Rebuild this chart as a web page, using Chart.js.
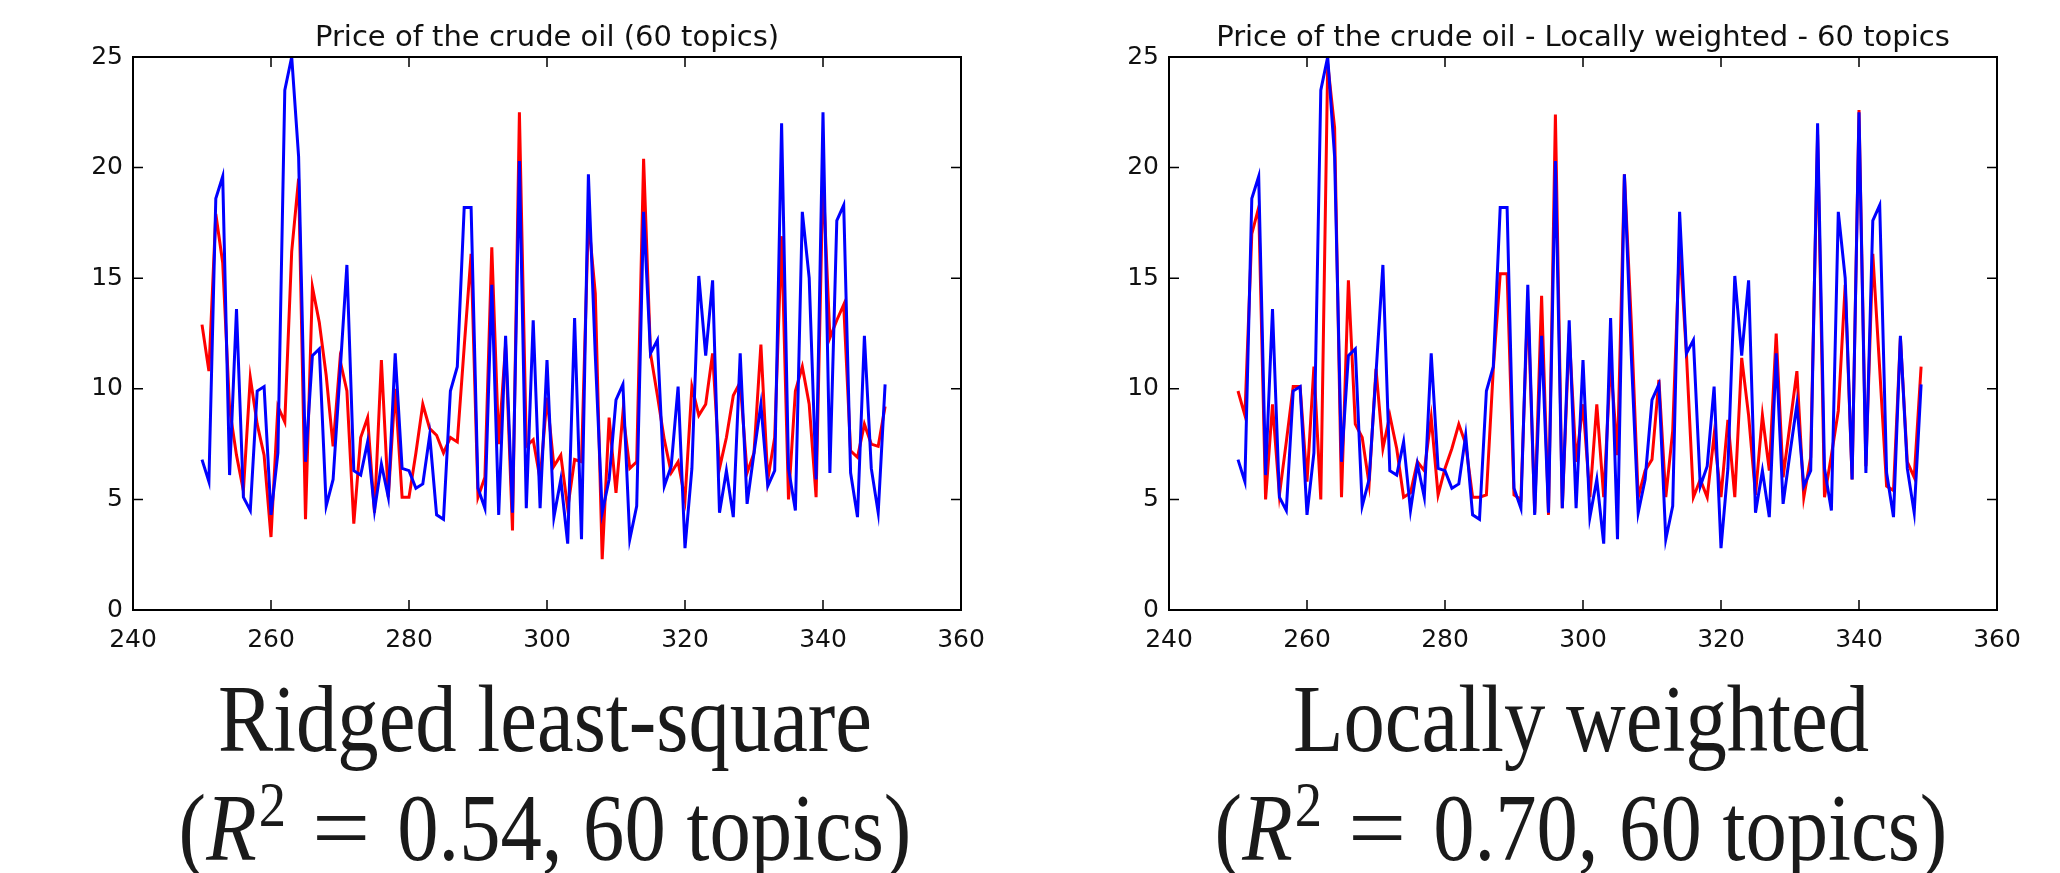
<!DOCTYPE html>
<html>
<head>
<meta charset="utf-8">
<script src="https://cdn.jsdelivr.net/npm/chart.js@4.4.1/dist/chart.umd.min.js"></script>
<style>
html,body{margin:0;padding:0;background:#fff;width:2060px;height:873px;overflow:hidden;}
.wrap{position:absolute;top:0;height:660px;}
.cap{position:absolute;width:1000px;text-align:center;font-family:"Liberation Serif",serif;font-size:95px;line-height:100px;color:#1a1a1a;white-space:nowrap;transform:scaleX(0.87);transform-origin:50% 0;}
.cap sup{font-size:0.66em;position:relative;top:-0.55em;vertical-align:baseline;line-height:0;margin-left:0.04em;}
.cap .eq{display:inline-block;margin:0 0.14em;transform:scaleX(1.25);}
</style>
</head>
<body>
<div class="wrap" style="left:0;width:1030px"><canvas id="c1"></canvas></div>
<div class="wrap" style="left:1036px;width:1024px"><canvas id="c2"></canvas></div>

<div class="cap" style="left:45px;top:669px">Ridged least-square</div>
<div class="cap" style="left:45px;top:778px">(<i>R</i><sup>2</sup> <span class="eq">=</span> 0.54, 60 topics)</div>
<div class="cap" style="left:1081px;top:669px">Locally weighted</div>
<div class="cap" style="left:1081px;top:778px">(<i>R</i><sup>2</sup> <span class="eq">=</span> 0.70, 60 topics)</div>

<script>
const days = [250,251,252,253,254,255,256,257,258,259,
  260,261,262,263,264,265,266,267,268,269,
  270,271,272,273,274,275,276,277,278,279,
  280,281,282,283,284,285,286,287,288,289,
  290,291,292,293,294,295,296,297,298,299,
  300,301,302,303,304,305,306,307,308,309,
  310,311,312,313,314,315,316,317,318,319,
  320,321,322,323,324,325,326,327,328,329,
  330,331,332,333,334,335,336,337,338,339,
  340,341,342,343,344,345,346,347,348,349];

const actualPrice = [6.8,5.8,18.6,19.6,6.1,13.6,5.1,4.5,9.9,10.1,
  4.3,7.1,23.5,25.0,20.5,6.7,11.5,11.8,4.7,5.9,
  10.7,15.6,6.3,6.1,7.6,4.5,6.6,5.1,11.6,6.4,
  6.3,5.5,5.7,7.9,4.3,4.1,9.9,11.0,18.2,18.2,
  5.5,4.6,14.7,4.3,12.4,4.4,20.3,4.6,13.1,4.6,
  11.3,4.2,5.9,3.0,13.2,3.2,19.7,11.5,4.4,5.9,
  9.5,10.2,3.2,4.7,18.0,11.6,12.2,5.6,6.5,10.1,
  2.8,6.4,15.1,11.5,14.9,4.4,6.3,4.2,11.6,4.8,
  7.1,9.3,5.6,6.3,22.0,6.4,4.5,18.0,15.0,5.9,
  22.5,6.2,17.6,18.3,6.2,4.2,12.4,6.4,4.4,10.2];

const ridgePred = [12.9,10.8,17.9,15.7,9.1,7.0,5.4,10.5,8.4,7.0,
  3.3,9.2,8.5,16.2,19.5,4.1,14.6,13.0,10.6,7.4,
  11.3,9.9,3.9,7.8,8.7,4.4,11.3,5.1,10.0,5.1,
  5.1,7.1,9.3,8.2,7.9,7.1,7.8,7.6,11.9,16.1,
  5.1,6.0,16.4,7.5,12.0,3.6,22.5,7.4,7.7,5.9,
  9.6,6.5,7.0,4.6,6.8,6.7,17.7,14.3,2.3,8.7,
  5.3,8.9,6.4,6.7,20.4,11.6,9.7,7.7,6.2,6.7,
  5.0,10.1,8.8,9.3,11.6,6.4,7.8,9.7,10.3,6.2,
  7.1,12.0,5.9,7.8,16.9,5.0,9.9,11.0,9.3,5.1,
  19.6,12.3,13.1,13.8,7.2,6.9,8.4,7.5,7.4,9.2];

const localPred = [9.9,8.8,17.0,18.2,5.0,9.3,5.2,7.6,10.1,10.1,
  5.8,11.0,5.0,24.7,21.8,5.1,14.9,8.4,7.8,5.7,
  10.9,7.3,8.8,7.3,5.1,5.3,6.7,6.3,8.7,5.2,
  6.4,7.3,8.4,7.5,5.1,5.1,5.2,10.9,15.2,15.2,
  5.2,5.0,14.0,4.4,14.2,4.3,22.4,4.6,12.5,6.7,
  9.3,5.1,9.3,5.1,11.2,7.0,19.7,13.0,5.1,6.3,
  6.8,10.4,5.1,8.1,16.6,11.5,5.1,5.9,5.1,7.9,
  5.1,8.6,5.1,11.4,8.8,5.2,8.8,6.3,12.5,6.0,
  8.4,10.8,5.1,6.9,21.5,5.1,7.0,9.0,14.7,5.9,
  22.6,6.5,16.1,10.9,5.6,5.4,12.3,6.7,6.0,11.0];

const xTicks = [240,260,280,300,320,340,360];
const yTicks = [0,5,10,15,20,25];

const FONT = '"DejaVu Sans", sans-serif';

const frameTitle = {
  id: 'frameTitle',
  afterDraw(chart, args, opts) {
    const {ctx, chartArea: a, scales: {x, y}} = chart;
    ctx.save();
    ctx.strokeStyle = '#000';
    ctx.lineWidth = 2;
    ctx.strokeRect(a.left, a.top, a.right - a.left, a.bottom - a.top);
    ctx.lineWidth = 1.5;
    const L = 10;
    ctx.beginPath();
    xTicks.forEach(v => {
      const px = x.getPixelForValue(v);
      ctx.moveTo(px, a.bottom); ctx.lineTo(px, a.bottom - L);
      ctx.moveTo(px, a.top); ctx.lineTo(px, a.top + L);
    });
    yTicks.forEach(v => {
      const py = y.getPixelForValue(v);
      ctx.moveTo(a.left, py); ctx.lineTo(a.left + L, py);
      ctx.moveTo(a.right, py); ctx.lineTo(a.right - L, py);
    });
    ctx.stroke();
    ctx.fillStyle = '#111';
    ctx.font = '29px ' + FONT;
    ctx.textAlign = 'center';
    ctx.textBaseline = 'alphabetic';
    ctx.fillText(opts.text, (a.left + a.right) / 2, 46);
    ctx.restore();
  }
};

function makeChart(id, title, pred, padRight) {
  return new Chart(document.getElementById(id), {
    type: 'line',
    data: {
      datasets: [
        { data: days.map((d, i) => ({x: d, y: actualPrice[i]})), borderColor: '#0000ff', order: 0 },
        { data: days.map((d, i) => ({x: d, y: pred[i]})), borderColor: '#ff0000', order: 1 }
      ]
    },
    options: {
      responsive: true,
      maintainAspectRatio: false,
      animation: false,
      events: [],
      layout: { padding: { left: 0, right: padRight, top: 57, bottom: 0 } },
      elements: { point: { radius: 0 }, line: { tension: 0, borderWidth: 3, fill: false } },
      plugins: {
        legend: { display: false },
        tooltip: { enabled: false },
        title: { display: false },
        frameTitle: { text: title }
      },
      scales: {
        x: {
          type: 'linear', min: 240, max: 360,
          afterBuildTicks(s) { s.ticks = xTicks.map(v => ({value: v})); },
          ticks: { font: { family: FONT, size: 25 }, color: '#111', padding: 7, maxRotation: 0, autoSkip: false },
          grid: { display: false },
          border: { display: false },
          afterFit(s) { s.height = 50; }
        },
        y: {
          type: 'linear', min: 0, max: 25,
          afterBuildTicks(s) { s.ticks = yTicks.map(v => ({value: v})); },
          ticks: { font: { family: FONT, size: 25 }, color: '#111', padding: 2 },
          grid: { display: false },
          border: { display: false },
          afterFit(s) { s.width = 133; }
        }
      }
    },
    plugins: [frameTitle]
  });
}

makeChart('c1', 'Price of the crude oil (60 topics)', ridgePred, 69);
makeChart('c2', 'Price of the crude oil - Locally weighted - 60 topics', localPred, 63);
</script>
</body>
</html>
